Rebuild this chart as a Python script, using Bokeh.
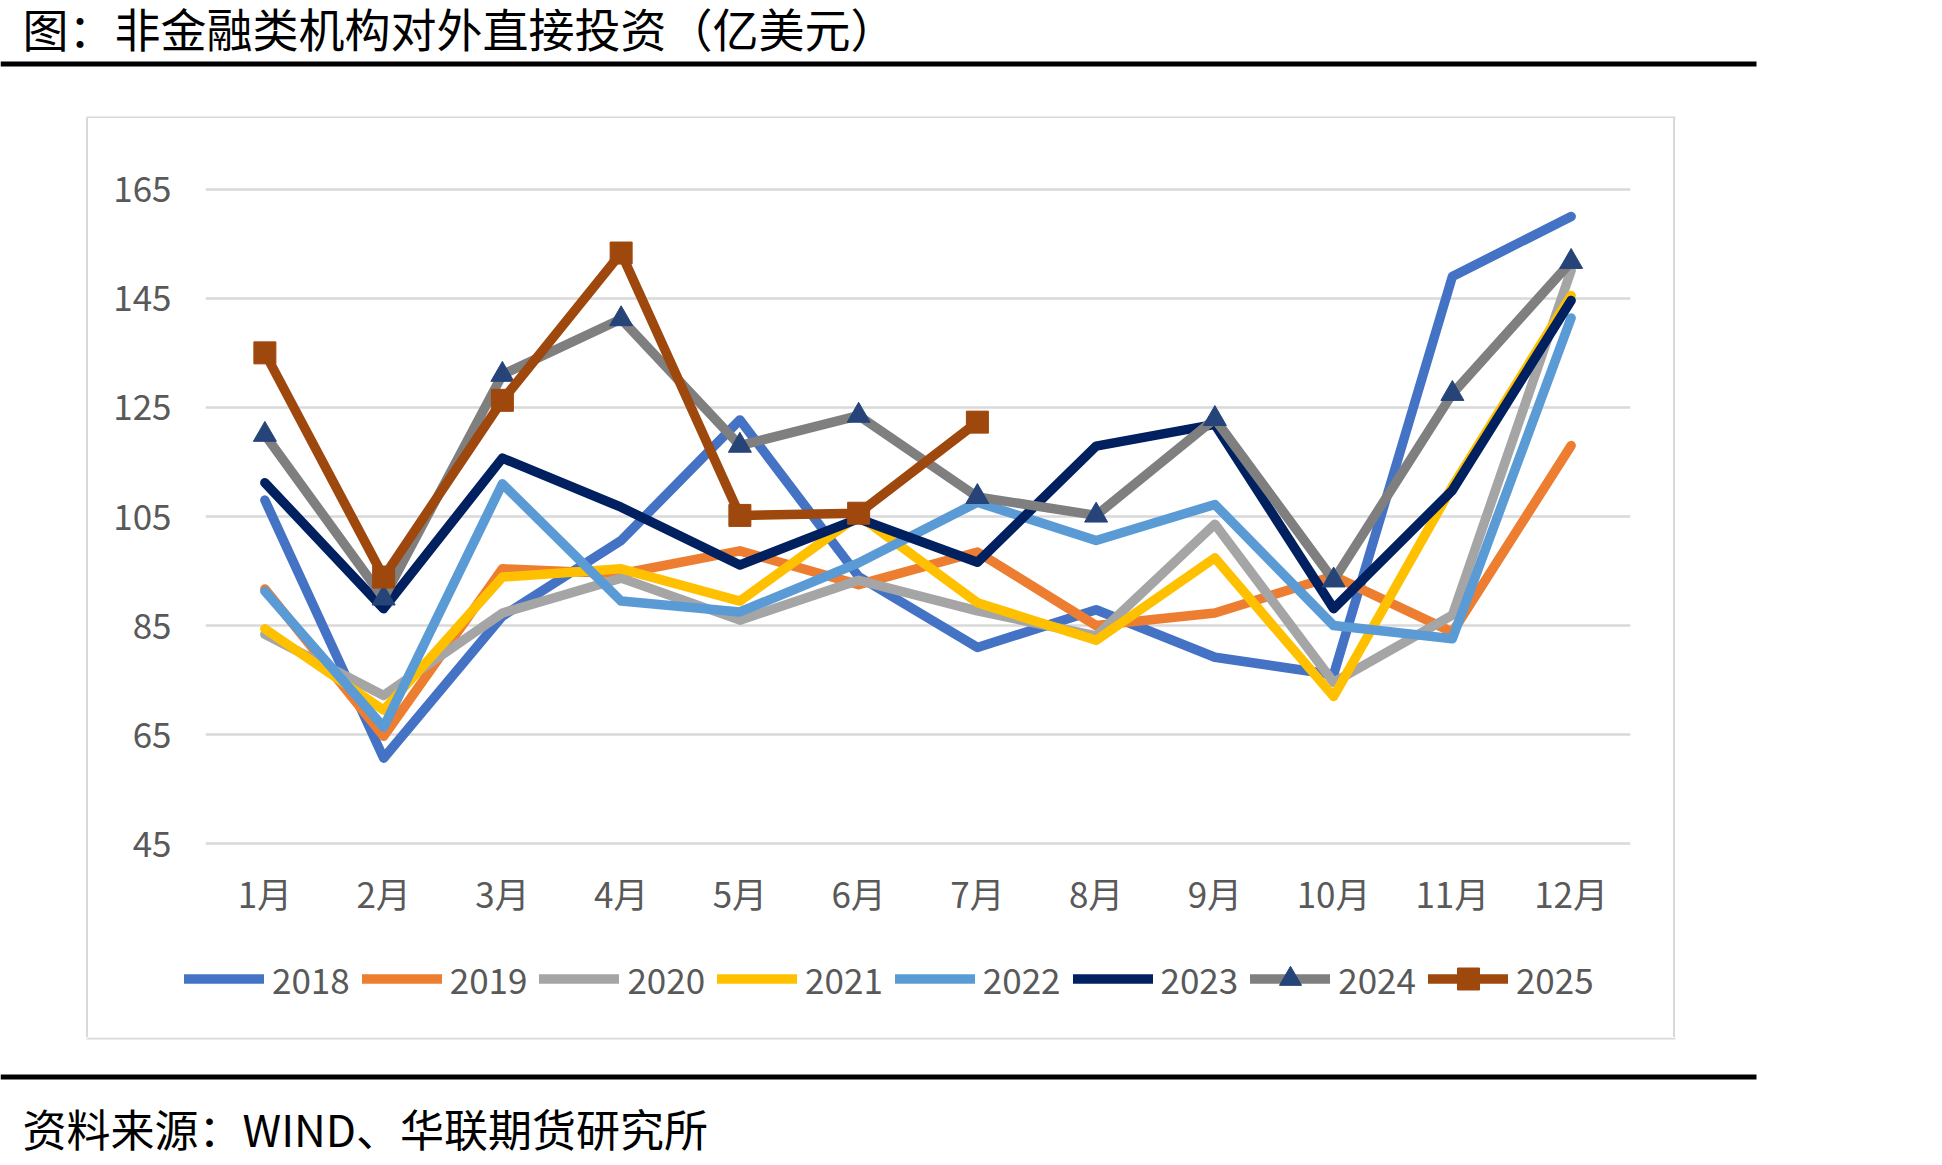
from bokeh.plotting import figure
from bokeh.layouts import column, row
from bokeh.models import (Range1d, FactorRange, Label, BoxAnnotation, Legend,
                          LegendItem, FixedTicker, Spacer)
from bokeh.embed import file_html
from bokeh.resources import INLINE

# ---- data (亿美元) ----
months = ["1月", "2月", "3月", "4月", "5月", "6月",
          "7月", "8月", "9月", "10月", "11月", "12月"]
y_ticks = [45, 65, 85, 105, 125, 145, 165]

v2018 = [108.0, 60.7, 86.7, 100.6, 122.7, 94.0, 81.0, 87.9, 79.2, 76.0, 149.0, 160.0]
v2019 = [91.7, 64.7, 95.4, 94.5, 98.7, 92.5, 98.5, 85.0, 87.3, 94.1, 83.8, 118.0]
v2020 = [83.4, 72.2, 87.3, 93.7, 86.0, 93.3, 87.7, 83.1, 103.6, 74.6, 86.9, 150.1]
v2021 = [84.4, 69.5, 93.9, 95.4, 89.5, 105.2, 89.2, 82.3, 97.4, 72.0, 110.5, 145.5]
v2022 = [91.3, 66.4, 111.0, 89.5, 87.5, 96.5, 107.6, 100.6, 107.2, 85.0, 82.6, 141.4]
v2023 = [111.2, 88.1, 115.7, 106.7, 96.1, 104.6, 96.6, 117.9, 121.9, 88.1, 109.8, 144.6]
v2024 = [120.0, 90.0, 131.0, 141.2, 118.0, 123.5, 108.6, 105.2, 122.9, 93.3, 127.5, 151.7]
v2025 = [135.0, 93.9, 126.3, 153.3, 105.2, 105.6, 122.3]

series = [
    ("2018", v2018, "#4472C4"),
    ("2019", v2019, "#ED7D31"),
    ("2020", v2020, "#A5A5A5"),
    ("2021", v2021, "#FFC000"),
    ("2022", v2022, "#5B9BD5"),
    ("2023", v2023, "#002060"),
    ("2024", v2024, "#7F7F7F"),
    ("2025", v2025, "#9E480E"),
]

FONT = "Noto Sans CJK SC"
AXIS_GREY = "#595959"
BOX_GREY = "#D9D9D9"
LINE_W = 9.5

PAGE_W, PAGE_H = 1942, 1165
BOX_L, BOX_R, BOX_T, BOX_B = 88, 1673, 118, 1037   # inside of the light frame
EDGE = 2                                           # frame line width
CHART_B = 940                                      # chart / legend split
FL, FR, FT, FB = 205, 1630, 186, 846               # plotting area on the page


def blank(w, h, fill="white"):
    """A plain drawing surface whose data units are page pixels (y downward)."""
    f = figure(width=w, height=h, x_range=Range1d(0, w), y_range=Range1d(h, 0),
               output_backend="svg", toolbar_location=None, title=None,
               x_axis_location=None, y_axis_location=None, min_border=0)
    f.grid.visible = False
    f.outline_line_color = None
    f.background_fill_color = fill
    f.border_fill_color = fill
    return f


def rule(f, left, right, top, bottom, color):
    f.add_layout(BoxAnnotation(left=left, right=right, top=top, bottom=bottom,
                               fill_color=color, fill_alpha=1, line_color=None))


def framed(inner, h):
    """Place a panel between the left/right edges of the light chart frame."""
    return row(Spacer(width=BOX_L - EDGE, height=h),
               Spacer(width=EDGE, height=h, styles={"background-color": BOX_GREY}),
               inner,
               Spacer(width=EDGE, height=h, styles={"background-color": BOX_GREY}),
               Spacer(width=PAGE_W - BOX_R - EDGE, height=h),
               spacing=0)


# ---- header: title, rule, top edge of the chart frame ----
header = blank(PAGE_W, BOX_T)
header.add_layout(Label(x=22, y=26, text="图：非金融类机构对外直接投资（亿美元）",
                        text_font=FONT, text_font_size="46px", text_color="black",
                        text_baseline="middle"))
rule(header, 0, 1756, 61, 66, "black")
rule(header, BOX_L - EDGE, BOX_R + EDGE, BOX_T - EDGE, BOX_T, BOX_GREY)

# ---- main chart ----
p = figure(width=BOX_R - BOX_L, height=CHART_B - BOX_T,
           x_range=FactorRange(factors=months, range_padding=0),
           y_range=Range1d(44.5, 165.5),
           output_backend="svg", toolbar_location=None, title=None,
           min_border_left=FL - BOX_L, min_border_right=BOX_R - FR,
           min_border_top=FT - BOX_T, min_border_bottom=CHART_B - FB)
p.outline_line_color = None
p.background_fill_color = "white"
p.border_fill_color = "white"

for ax in (p.xaxis[0], p.yaxis[0]):
    ax.axis_line_color = None
    ax.major_tick_line_color = None
    ax.minor_tick_line_color = None
    ax.major_tick_out = 0
    ax.major_tick_in = 0
    ax.major_label_text_font = FONT
    ax.major_label_text_font_size = "35px"
    ax.major_label_text_color = AXIS_GREY
p.xaxis.major_label_standoff = 20
p.yaxis.major_label_standoff = 34
p.yaxis.ticker = FixedTicker(ticks=y_ticks)

p.xgrid.grid_line_color = None
p.ygrid.ticker = FixedTicker(ticks=y_ticks)
p.ygrid.grid_line_color = BOX_GREY
p.ygrid.grid_line_width = 2.5


def marker_for(name):
    if name == "2024":
        return dict(marker="triangle", size=23, fill_color="#264478",
                    line_color="#264478")
    if name == "2025":
        return dict(marker="square", size=22, fill_color="#9E480E",
                    line_color="#9E480E")
    return None


def draw_series(f, visible=True):
    out = []
    for name, vals, color in series:
        xs = months[:len(vals)]
        rs = [f.line(xs, vals, line_color=color, line_width=LINE_W,
                     line_cap="round", line_join="round", visible=visible)]
        m = marker_for(name)
        if m:
            rs.append(f.scatter(xs, vals, visible=visible, **m))
        out.append((name, rs))
    return out


draw_series(p)

# ---- legend strip ----
leg_h = BOX_B - CHART_B
lg = figure(width=BOX_R - BOX_L, height=leg_h,
            x_range=FactorRange(factors=months, range_padding=0),
            y_range=Range1d(44.5, 165.5),
            output_backend="svg", toolbar_location=None, title=None,
            x_axis_location=None, y_axis_location=None, min_border=0)
lg.grid.visible = False
lg.outline_line_color = None
lg.background_fill_color = "white"
lg.border_fill_color = "white"
# series keys only: the glyphs themselves stay hidden in this strip
keyed = draw_series(lg, visible=False)
items = [LegendItem(label=name, renderers=rs) for name, rs in keyed]
legend = Legend(items=items, orientation="horizontal",
                location=(184 - BOX_L, 31),
                glyph_width=80, glyph_height=55, label_standoff=8, spacing=12,
                padding=0, margin=0, border_line_color=None,
                background_fill_alpha=0, click_policy="none",
                label_text_font=FONT, label_text_font_size="35px",
                label_text_color=AXIS_GREY)
lg.add_layout(legend, "center")

middle = column(framed(p, CHART_B - BOX_T), framed(lg, leg_h), spacing=0)

# ---- footer: bottom edge of the chart frame, rule, source ----
footer = blank(PAGE_W, PAGE_H - BOX_B)
rule(footer, BOX_L - EDGE, BOX_R + EDGE, 0, EDGE, BOX_GREY)
rule(footer, 0, 1756, 1074 - BOX_B, 1079 - BOX_B, "black")
footer.add_layout(Label(x=22, y=1127 - BOX_B, text="资料来源：WIND、华联期货研究所",
                        text_font=FONT, text_font_size="44px", text_color="black",
                        text_baseline="middle"))

page = column(header, middle, footer, spacing=0)
open("out.html", "w").write(file_html(page, INLINE))
